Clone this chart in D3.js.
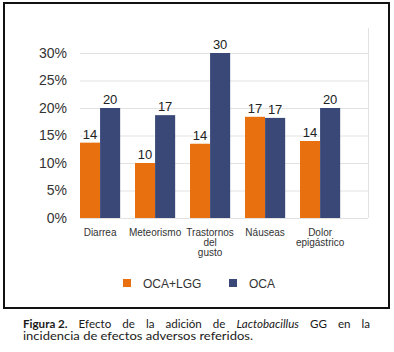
<!DOCTYPE html>
<html>
<head>
<meta charset="utf-8">
<script src="https://cdn.jsdelivr.net/npm/d3@7"></script>
<style>
  body { margin: 0; background: #fff; }
  svg { display: block; }
</style>
</head>
<body>
<script>
// values (percent)
const categories = [["Diarrea"], ["Meteorismo"], ["Trastornos", "del", "gusto"], ["Náuseas"], ["Dolor", "epigástrico"]];
const seriesNames = ["OCA+LGG", "OCA"];
const ocaLgg = [13.7, 10, 13.5, 18.4, 14];
const oca = [20, 18.7, 30, 18.2, 20];
const ocaLggLabels = ["14", "10", "14", "17", "14"];
const ocaLabels = ["20", "17", "30", "17", "20"];
const yTicks = [0, 5, 10, 15, 20, 25, 30];

const colors = ["#e8700e", "#3a4878"];
const width = 394;
const height = 352;

const svg = d3.select("body").append("svg")
    .attr("width", width)
    .attr("height", height);

// frame round the chart
svg.append("rect")
    .attr("x", 4).attr("y", 3)
    .attr("width", 385).attr("height", 305)
    .attr("fill", "none")
    .attr("stroke", "#111")
    .attr("stroke-width", 2);

const plot = {left: 80, right: 368, top: 28, bottom: 218};

const yscale = d3.scaleLinear()
    .domain([0, 30])
    .range([plot.bottom, 53]);

const xscale = d3.scaleBand()
    .domain(d3.range(categories.length))
    .range([plot.left, plot.right])
    .paddingInner(0.27)
    .paddingOuter(0.253)
    .align(0);

const xsub = d3.scaleBand()
    .domain([0, 1])
    .range([0, xscale.bandwidth()]);

// gridlines
svg.append("g")
    .selectAll("line")
    .data(yTicks)
    .join("line")
    .attr("x1", plot.left).attr("x2", plot.right)
    .attr("y1", d => yscale(d) + 0.5).attr("y2", d => yscale(d) + 0.5)
    .attr("stroke", "#e2e2e2")
    .attr("stroke-width", 1);

svg.append("line")
    .attr("x1", plot.right + 0.5).attr("x2", plot.right + 0.5)
    .attr("y1", plot.top).attr("y2", plot.bottom)
    .attr("stroke", "#e2e2e2");

// y axis labels
const yaxis = d3.axisLeft(yscale)
    .tickValues(yTicks)
    .tickFormat(d => d + "%")
    .tickSize(0)
    .tickPadding(0);

const yg = svg.append("g")
    .attr("transform", "translate(67,0)")
    .call(yaxis);
yg.select(".domain").remove();
yg.selectAll("text")
    .attr("font-family", "'Liberation Sans', Arial, sans-serif")
    .attr("font-size", 14)
    .attr("fill", "#333");

// bars
const series = [ocaLgg, oca];
const labels = [ocaLggLabels, ocaLabels];

series.forEach((vals, s) => {
    svg.append("g")
        .selectAll("rect")
        .data(vals)
        .join("rect")
        .attr("x", (d, i) => xscale(i) + xsub(s))
        .attr("y", d => yscale(d))
        .attr("width", xsub.bandwidth())
        .attr("height", d => yscale(0) - yscale(d))
        .attr("fill", colors[s]);

    svg.append("g")
        .selectAll("text")
        .data(vals)
        .join("text")
        .attr("x", (d, i) => xscale(i) + xsub(s) + xsub.bandwidth() / 2)
        .attr("y", d => yscale(d) - 4)
        .attr("text-anchor", "middle")
        .attr("font-family", "'Liberation Sans', Arial, sans-serif")
        .attr("font-size", 13)
        .attr("fill", "#222")
        .text((d, i) => labels[s][i]);
});

// category labels
const cat = svg.append("g")
    .selectAll("text")
    .data(categories)
    .join("text")
    .attr("x", (d, i) => xscale(i) + xscale.bandwidth() / 2)
    .attr("y", 236)
    .attr("text-anchor", "middle")
    .attr("font-family", "'Liberation Sans', Arial, sans-serif")
    .attr("font-size", 10)
    .attr("fill", "#333");

cat.selectAll("tspan")
    .data(d => d)
    .join("tspan")
    .attr("x", function() { return this.parentNode.getAttribute("x"); })
    .attr("dy", (d, i) => i === 0 ? 0 : 10)
    .text(d => d);

// legend
const legendX = [123, 229];
seriesNames.forEach((name, s) => {
    svg.append("rect")
        .attr("x", legendX[s]).attr("y", 279)
        .attr("width", 8).attr("height", 8)
        .attr("fill", colors[s]);
    svg.append("text")
        .attr("x", legendX[s] + 20).attr("y", 288)
        .attr("font-family", "'Liberation Sans', Arial, sans-serif")
        .attr("font-size", 12)
        .attr("fill", "#333")
        .text(name);
});

// caption
const capFont = "Lato, 'Noto Sans', sans-serif";
const capSize = 11.6;
const capLeft = 23, capRight = 370;
const line1 = [
    {t: "Figura 2.", w: "bold", s: "normal"},
    {t: "Efecto", w: "normal", s: "normal"},
    {t: "de", w: "normal", s: "normal"},
    {t: "la", w: "normal", s: "normal"},
    {t: "adición", w: "normal", s: "normal"},
    {t: "de", w: "normal", s: "normal"},
    {t: "Lactobacillus", w: "normal", s: "italic"},
    {t: "GG", w: "normal", s: "normal"},
    {t: "en", w: "normal", s: "normal"},
    {t: "la", w: "normal", s: "normal"}
];
const line2 = "incidencia de efectos adversos referidos.";

svg.append("text")
    .attr("x", capLeft).attr("y", 340)
    .attr("font-family", capFont)
    .attr("font-size", capSize)
    .attr("textLength", 230)
    .attr("lengthAdjust", "spacingAndGlyphs")
    .attr("fill", "#1a1a1a")
    .text(line2);

const words = line1.map(w => svg.append("text")
    .attr("y", 328)
    .attr("font-family", capFont)
    .attr("font-size", capSize)
    .attr("font-weight", w.w)
    .attr("font-style", w.s)
    .attr("fill", "#1a1a1a")
    .text(w.t));
const total = d3.sum(words, w => w.node().getComputedTextLength());
const gap = (capRight - capLeft - total) / (words.length - 1);
let cx = capLeft;
words.forEach(w => {
    w.attr("x", cx);
    cx += w.node().getComputedTextLength() + gap;
});
</script>
</body>
</html>
